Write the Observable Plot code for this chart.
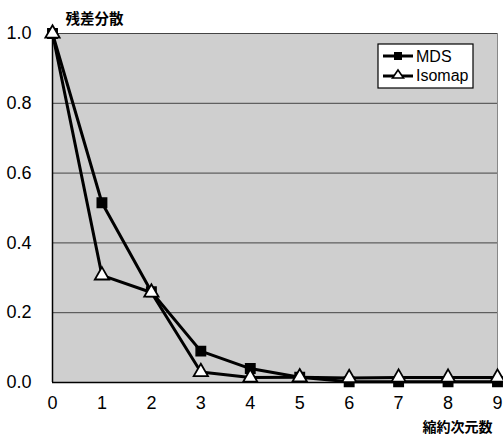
<!DOCTYPE html>
<html><head><meta charset="utf-8">
<script src="https://cdn.jsdelivr.net/npm/d3@7"></script>
<script src="https://cdn.jsdelivr.net/npm/@observablehq/plot@0.6"></script>
<style>body{margin:0;background:#fff;} svg{display:block;}</style>
</head><body><div id="chart"></div>
<script>
const dims = [0,1,2,3,4,5,6,7,8,9];
const mds = [1.0,0.515,0.26,0.09,0.04,0.015,0.002,0.002,0.002,0.002];
const isomap = [1.0,0.307,0.258,0.03,0.014,0.015,0.013,0.014,0.014,0.014];
const yTicks = [0,0.2,0.4,0.6,0.8,1.0];
const seriesNames = ["MDS","Isomap"];
const yTitle = "残差分散";
const xTitle = "縮約次元数";

const dataM = dims.map((d,i)=>({x:d,y:mds[i]}));
const dataI = dims.map((d,i)=>({x:d,y:isomap[i]}));
const font = "'Liberation Sans', Arial, sans-serif";
const cjk = "'Noto Sans CJK JP', sans-serif";

const chart = Plot.plot({
  width: 503, height: 435,
  marginLeft: 52, marginRight: 6, marginTop: 33, marginBottom: 53,
  style: {fontFamily: font, fontSize: "18px", background: "#fff", color: "#000"},
  x: {domain: [0,9], label: null},
  y: {domain: [0,1], label: null},
  marks: [
    Plot.frame({fill: "#cfcfcf", stroke: "#888"}),
    Plot.ruleY(yTicks.filter(d=>d>0), {stroke: "#444", strokeWidth: 1}),
    Plot.ruleY([0], {stroke: "#000", strokeWidth: 1.5}),
    Plot.ruleX([0], {stroke: "#000", strokeWidth: 1.5}),
    Plot.axisX({ticks: dims, tickFormat: d=>String(d), tickSize: 0, tickPadding: 14, fontSize: 18, label: null}),
    Plot.axisY({ticks: yTicks, tickFormat: d3.format(".1f"), tickSize: 0, tickPadding: 21, fontSize: 18, label: null}),
    Plot.line(dataM, {x:"x", y:"y", stroke:"#000", strokeWidth: 3}),
    Plot.line(dataI, {x:"x", y:"y", stroke:"#000", strokeWidth: 3}),
    Plot.dot(dataM, {x:"x", y:"y", symbol:"square", r: 5.3, fill:"#000", stroke:"#000"}),
    Plot.dot(dataI, {x:"x", y:"y", symbol:"triangle", r: 5.3, fill:"#fff", stroke:"#000", strokeWidth: 1.8}),
    Plot.text([yTitle], {frameAnchor:"top-left", lineAnchor:"bottom", dx: 13, dy: -10, fontFamily: cjk, fontSize: 14.5, fontWeight: "bold", textAnchor: "start"}),
    Plot.text([xTitle], {frameAnchor:"bottom-right", lineAnchor:"bottom", dx: -5, dy: 49, fontFamily: cjk, fontSize: 14, fontWeight: "bold", textAnchor: "end"})
  ]
});
document.getElementById("chart").appendChild(chart);

// legend
const svg = d3.select(chart);
const g = svg.append("g").attr("text-anchor","start");
g.append("rect").attr("x",378).attr("y",44).attr("width",95).attr("height",44).attr("fill","#fff").attr("stroke","#000").attr("stroke-width",1.2);
g.append("line").attr("x1",383).attr("x2",413).attr("y1",56).attr("y2",56).attr("stroke","#000").attr("stroke-width",3);
g.append("rect").attr("x",394).attr("y",52).attr("width",8).attr("height",8).attr("fill","#000");
g.append("text").attr("x",416).attr("y",62).attr("text-anchor","start").text(seriesNames[0]).attr("font-family",font).attr("font-size",16);
g.append("line").attr("x1",383).attr("x2",413).attr("y1",76).attr("y2",76).attr("stroke","#000").attr("stroke-width",3);
g.append("path").attr("d","M398,70 L403.5,78 L392.5,78 Z").attr("fill","#fff").attr("stroke","#000").attr("stroke-width",1.6);
g.append("text").attr("x",416).attr("y",81).attr("text-anchor","start").text(seriesNames[1]).attr("font-family",font).attr("font-size",16);
</script></body></html>
